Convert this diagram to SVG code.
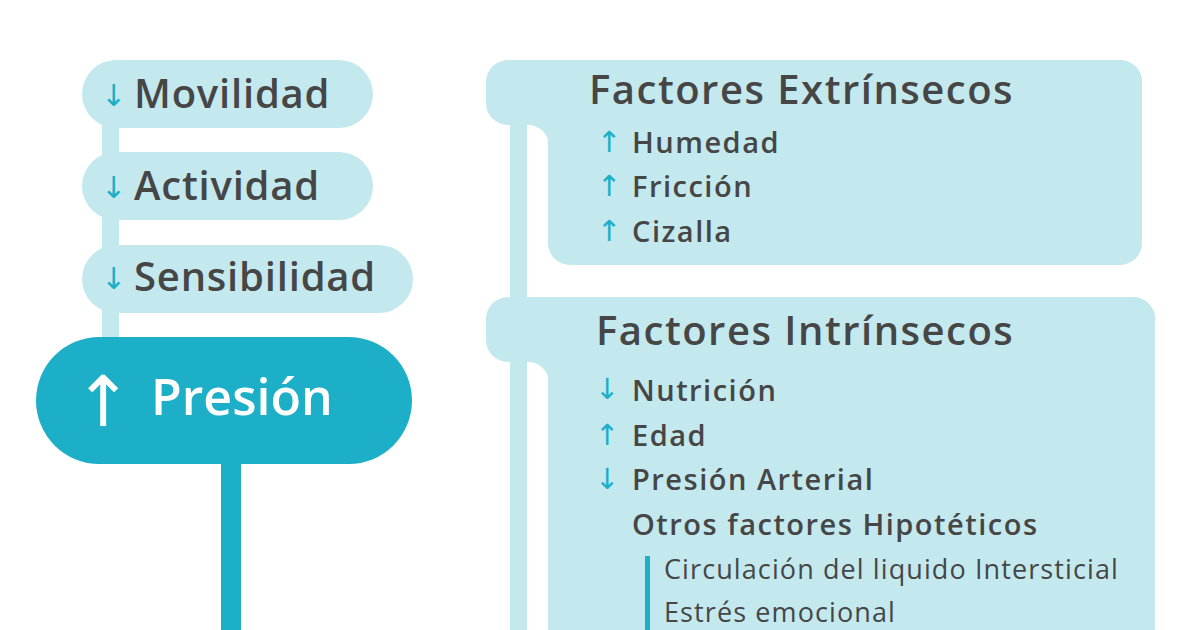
<svg xmlns="http://www.w3.org/2000/svg" width="1200" height="630" viewBox="0 0 1200 630">
<style>
.light{fill:#C3E9EF}
.teal{fill:#1DAFC8}
.lbl{font-family:"Open Sans","Noto Sans",sans-serif;font-weight:600;fill:#464646}
.big{font-size:40px;letter-spacing:0.8px}
.head{font-size:40px;letter-spacing:1.5px}
.item{font-size:29px;letter-spacing:1.5px}
.sub{font-size:27px;font-weight:400;letter-spacing:1.1px}
.arr{font-family:"DejaVu Sans",sans-serif;fill:#1DAFC8}
</style>
<rect width="1200" height="630" fill="#FFFFFF"/>
<g id="connectors">
<rect class="light" x="102" y="110" width="17" height="235"/>
<rect class="teal" x="221" y="455" width="20" height="175"/>
<rect class="light" x="510" y="100" width="17" height="530"/>
</g>
<g id="movilidad">
<rect class="light" x="82" y="60" width="291" height="68" rx="34"/>
<text class="arr" x="101" y="106" font-size="30">↓</text>
<text class="lbl big" x="134" y="108">Movilidad</text>
</g>
<g id="actividad">
<rect class="light" x="82" y="152" width="291" height="68" rx="34"/>
<text class="arr" x="101" y="198" font-size="30">↓</text>
<text class="lbl big" x="134" y="200">Actividad</text>
</g>
<g id="sensibilidad">
<rect class="light" x="82" y="245" width="331" height="68" rx="34"/>
<text class="arr" x="101" y="289" font-size="30">↓</text>
<text class="lbl big" x="134" y="291">Sensibilidad</text>
</g>
<g id="presion">
<rect class="teal" x="36" y="337" width="376" height="127" rx="63.5"/>
<text x="74" y="426" font-family="DejaVu Sans,sans-serif" font-size="70" fill="#FFFFFF">↑</text>
<text x="151" y="415" font-family="Open Sans,Noto Sans,sans-serif" font-weight="600" font-size="50" fill="#FFFFFF">Presión</text>
</g>
<g id="extrinsecos">
<rect class="light" x="486" y="60" width="656" height="65" rx="22"/>
<rect class="light" x="548" y="60" width="594" height="205" rx="22"/>
<path class="light" d="M526,124 L549,124 L549,146 A21,21 0 0 0 527,125 Z"/>
<text class="lbl head" x="589" y="104">Factores Extrínsecos</text>
<text class="arr" x="597" y="152" font-size="29">↑</text>
<text class="lbl item" x="632" y="153">Humedad</text>
<text class="arr" x="597" y="196" font-size="29">↑</text>
<text class="lbl item" x="632" y="197">Fricción</text>
<text class="arr" x="597" y="241" font-size="29">↑</text>
<text class="lbl item" x="632" y="242">Cizalla</text>
</g>
<g id="intrinsecos">
<rect class="light" x="486" y="297" width="669" height="65" rx="22"/>
<rect class="light" x="548" y="297" width="607" height="380" rx="22"/>
<path class="light" d="M526,361 L549,361 L549,383 A21,21 0 0 0 527,362 Z"/>
<text class="lbl head" x="596" y="345">Factores Intrínsecos</text>
<text class="arr" x="595" y="399" font-size="29">↓</text>
<text class="lbl item" x="632" y="401">Nutrición</text>
<text class="arr" x="595" y="445" font-size="29">↑</text>
<text class="lbl item" x="632" y="446">Edad</text>
<text class="arr" x="595" y="489" font-size="29">↓</text>
<text class="lbl item" x="632" y="490">Presión Arterial</text>
<text class="lbl item" x="632" y="535">Otros factores Hipotéticos</text>
<rect class="teal" x="645" y="556" width="5" height="74"/>
<text class="lbl sub" x="664" y="579">Circulación del liquido Intersticial</text>
<text class="lbl sub" x="664" y="622">Estrés emocional</text>
</g>
</svg>
